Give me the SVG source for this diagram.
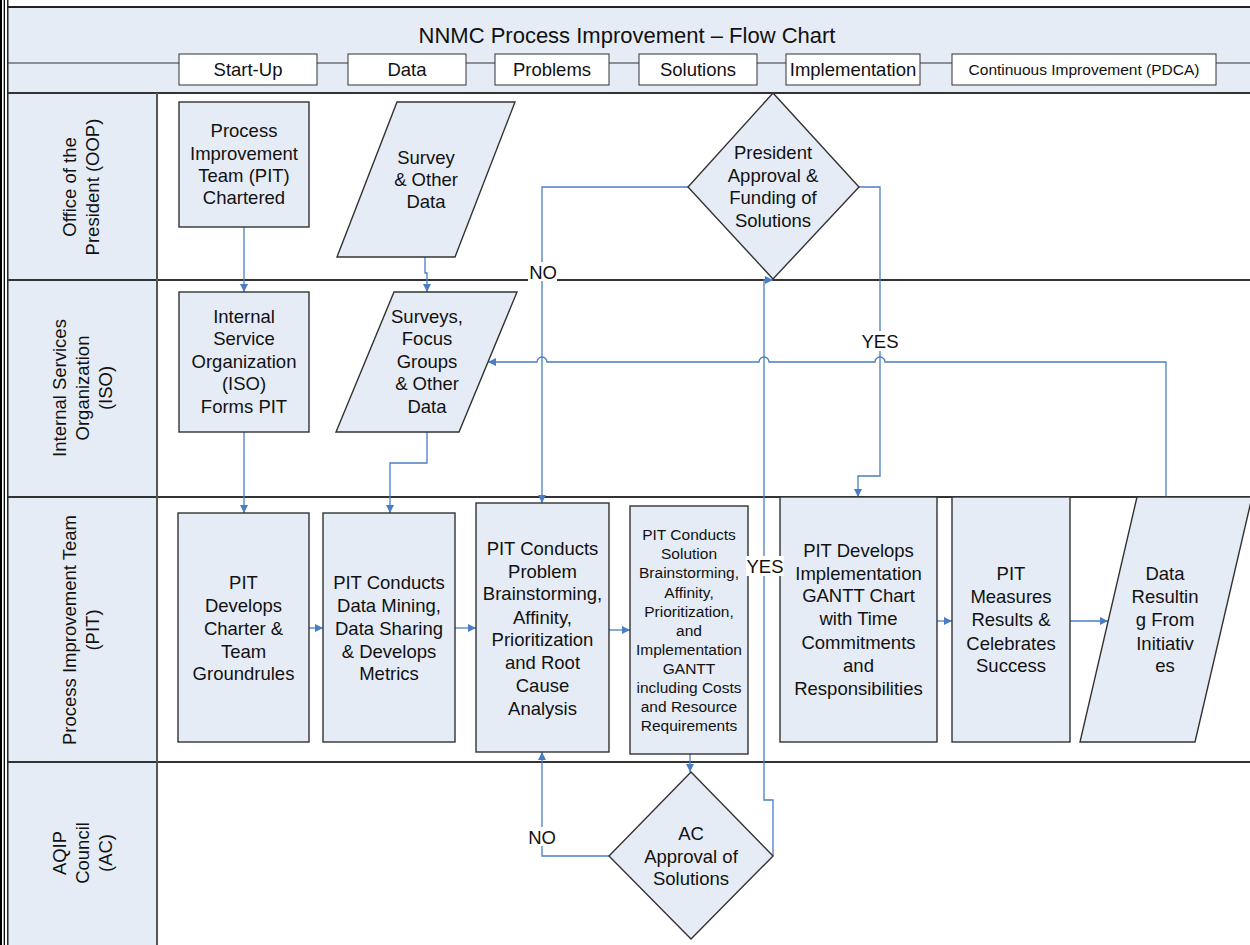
<svg xmlns="http://www.w3.org/2000/svg" width="1250" height="945" viewBox="0 0 1250 945">
<defs>
<marker id="ah" viewBox="0 0 10 10" refX="10" refY="5" markerWidth="9" markerHeight="8" markerUnits="userSpaceOnUse" orient="auto">
<path d="M0,0 L10,5 L0,10 z" fill="#4A7EC4"/>
</marker>
<style>
text{font-family:"Liberation Sans",Arial,sans-serif;fill:#111;}
.t{font-size:18.5px;text-anchor:middle;}
.s{font-size:15.5px;text-anchor:middle;}
.ph{font-size:18.5px;text-anchor:middle;}
.node{fill:#E6ECF6;stroke:#333;stroke-width:1.4;}
.pbox{fill:#fff;stroke:#333;stroke-width:1;}
.lane{stroke:#333;stroke-width:2;fill:none;}
.conn{fill:none;stroke:#4A7EC4;stroke-width:1.3;}
.arr{marker-end:url(#ah);}
.lbl{fill:#fff;stroke:none;}
</style>
</defs>
<rect x="0" y="0" width="1250" height="945" fill="#fff"/>
<g id="background">
<rect x="8" y="7" width="1242" height="86" fill="#E6ECF6"/>
<rect x="8" y="93" width="149" height="852" fill="#E6ECF6"/>
<line x1="1" y1="0" x2="1" y2="945" stroke="#000" stroke-width="2"/>
<line x1="4.3" y1="0" x2="4.3" y2="945" stroke="#000" stroke-width="1.3"/>
<line x1="7.8" y1="0" x2="7.8" y2="945" stroke="#000" stroke-width="1.3"/>
<line x1="8" y1="7" x2="1250" y2="7" stroke="#222" stroke-width="2"/>
<line x1="8" y1="63" x2="1250" y2="63" stroke="#333" stroke-width="1"/>
<line class="lane" x1="8" y1="93" x2="1250" y2="93"/>
<line class="lane" x1="8" y1="280" x2="1250" y2="280"/>
<line class="lane" x1="8" y1="497" x2="1250" y2="497"/>
<line class="lane" x1="8" y1="762" x2="1250" y2="762"/>
<line x1="157" y1="93" x2="157" y2="945" stroke="#555" stroke-width="2"/>
</g>
<g id="title">
<text x="627" y="43" style="font-size:22px;text-anchor:middle">NNMC Process Improvement – Flow Chart</text>
</g>
<g id="phases">
<rect class="pbox" x="179" y="54" width="138" height="31"/>
<text class="ph" x="248" y="76">Start-Up</text>
<rect class="pbox" x="348" y="54" width="118" height="31"/>
<text class="ph" x="407" y="76">Data</text>
<rect class="pbox" x="495" y="54" width="114" height="31"/>
<text class="ph" x="552" y="76">Problems</text>
<rect class="pbox" x="639" y="54" width="118" height="31"/>
<text class="ph" x="698" y="76">Solutions</text>
<rect class="pbox" x="786" y="54" width="134" height="31"/>
<text class="ph" x="853" y="76">Implementation</text>
<rect class="pbox" x="952" y="54" width="264" height="31"/>
<text x="1084" y="75" style="font-size:15.5px;text-anchor:middle">Continuous Improvement (PDCA)</text>
</g>
<g id="lane-labels">
<text class="t" transform="translate(70,187) rotate(-90)" dy="0.35em">Office of the</text>
<text class="t" transform="translate(93,187) rotate(-90)" dy="0.35em">President (OOP)</text>
<text class="t" transform="translate(60,388) rotate(-90)" dy="0.35em">Internal Services</text>
<text class="t" transform="translate(83,388) rotate(-90)" dy="0.35em">Organization</text>
<text class="t" transform="translate(106,388) rotate(-90)" dy="0.35em">(ISO)</text>
<text class="t" transform="translate(70,630) rotate(-90)" dy="0.35em">Process Improvement Team</text>
<text class="t" transform="translate(93,630) rotate(-90)" dy="0.35em">(PIT)</text>
<text class="t" transform="translate(60,853) rotate(-90)" dy="0.35em">AQIP</text>
<text class="t" transform="translate(83,853) rotate(-90)" dy="0.35em">Council</text>
<text class="t" transform="translate(106,853) rotate(-90)" dy="0.35em">(AC)</text>
</g>
<g id="connectors">
<path class="conn arr" d="M244,227 V292"/>
<path class="conn arr" d="M425,257 V273 H427 V292"/>
<path class="conn arr" d="M244,432 V513"/>
<path class="conn arr" d="M427,432 V463 H390 V513"/>
<path class="conn arr" d="M309,628 H323"/>
<path class="conn arr" d="M455,628 H476"/>
<path class="conn arr" d="M609,630 H630"/>
<path class="conn arr" d="M937,621 H952"/>
<path class="conn arr" d="M1070,621 H1108"/>
<path class="conn arr" d="M1166,497 V362 H885 A5,5 0 0 0 875,362 H769 A5,5 0 0 0 759,362 H547 A5,5 0 0 0 537,362 H488"/>
<path class="conn arr" d="M688,187 H542 V503"/>
<path class="conn arr" d="M859,187 H880 V476 H858 V497"/>
<path class="conn arr" d="M690,754 V772"/>
<path class="conn arr" d="M609,856 H542 V752"/>
<path class="conn arr" d="M773,856 V800 H764 V280 H773"/>
</g>
<g id="node-pit-chartered">
<rect class="node" x="179" y="102" width="130" height="125"/>
<text class="t" x="244" y="136.5">Process</text>
<text class="t" x="244" y="159.5">Improvement</text>
<text class="t" x="244" y="181.5">Team (PIT)</text>
<text class="t" x="244" y="203.5">Chartered</text>
</g>
<g id="node-survey-data">
<polygon class="node" points="397,102 515,102 455,257 337,257"/>
<text class="t" x="426" y="163.5">Survey</text>
<text class="t" x="426" y="185.5">&amp; Other</text>
<text class="t" x="426" y="207.5">Data</text>
</g>
<g id="node-president-approval">
<polygon class="node" points="773,93 859,187 773,279 688,187"/>
<text class="t" x="773" y="158.5">President</text>
<text class="t" x="773" y="181.5">Approval &amp;</text>
<text class="t" x="773" y="203.5">Funding of</text>
<text class="t" x="773" y="226.5">Solutions</text>
</g>
<g id="node-iso-forms-pit">
<rect class="node" x="179" y="292" width="130" height="140"/>
<text class="t" x="244" y="322.5">Internal</text>
<text class="t" x="244" y="345">Service</text>
<text class="t" x="244" y="367.5">Organization</text>
<text class="t" x="244" y="390">(ISO)</text>
<text class="t" x="244" y="412.5">Forms PIT</text>
</g>
<g id="node-surveys-focus">
<polygon class="node" points="394,292 517,292 459,432 336,432"/>
<text class="t" x="427" y="322.5">Surveys,</text>
<text class="t" x="427" y="345">Focus</text>
<text class="t" x="427" y="367.5">Groups</text>
<text class="t" x="427" y="390">&amp; Other</text>
<text class="t" x="427" y="412.5">Data</text>
</g>
<g id="node-charter">
<rect class="node" x="178" y="513" width="131" height="229"/>
<text class="t" x="243.5" y="588.5">PIT</text>
<text class="t" x="243.5" y="611.5">Develops</text>
<text class="t" x="243.5" y="634.5">Charter &amp;</text>
<text class="t" x="243.5" y="657.5">Team</text>
<text class="t" x="243.5" y="679.5">Groundrules</text>
</g>
<g id="node-data-mining">
<rect class="node" x="323" y="513" width="132" height="229"/>
<text class="t" x="389" y="588.5">PIT Conducts</text>
<text class="t" x="389" y="611.5">Data Mining,</text>
<text class="t" x="389" y="634.5">Data Sharing</text>
<text class="t" x="389" y="657.5">&amp; Develops</text>
<text class="t" x="389" y="679.5">Metrics</text>
</g>
<g id="node-problem-brainstorming">
<rect class="node" x="476" y="503" width="133" height="249"/>
<text class="t" x="542.5" y="554.5">PIT Conducts</text>
<text class="t" x="542.5" y="577.5">Problem</text>
<text class="t" x="542.5" y="599.5">Brainstorming,</text>
<text class="t" x="542.5" y="623.5">Affinity,</text>
<text class="t" x="542.5" y="645.5">Prioritization</text>
<text class="t" x="542.5" y="668.5">and Root</text>
<text class="t" x="542.5" y="691.5">Cause</text>
<text class="t" x="542.5" y="714.5">Analysis</text>
</g>
<g id="node-solution-brainstorming">
<rect class="node" x="630" y="506" width="118" height="248"/>
<text class="s" x="689" y="539.5">PIT Conducts</text>
<text class="s" x="689" y="558.5">Solution</text>
<text class="s" x="689" y="577.5">Brainstorming,</text>
<text class="s" x="689" y="597.5">Affinity,</text>
<text class="s" x="689" y="616.5">Prioritization,</text>
<text class="s" x="689" y="635.5">and</text>
<text class="s" x="689" y="654.5">Implementation</text>
<text class="s" x="689" y="673.5">GANTT</text>
<text class="s" x="689" y="692.5">including Costs</text>
<text class="s" x="689" y="711.5">and Resource</text>
<text class="s" x="689" y="730.5">Requirements</text>
</g>
<g id="node-gantt">
<rect class="node" x="780" y="497" width="157" height="245"/>
<text class="t" x="858.5" y="556.5">PIT Develops</text>
<text class="t" x="858.5" y="579.5">Implementation</text>
<text class="t" x="858.5" y="601.5">GANTT Chart</text>
<text class="t" x="858.5" y="624.5">with Time</text>
<text class="t" x="858.5" y="648.5">Commitments</text>
<text class="t" x="858.5" y="671.5">and</text>
<text class="t" x="858.5" y="694.5">Responsibilities</text>
</g>
<g id="node-measures">
<rect class="node" x="952" y="497" width="118" height="245"/>
<text class="t" x="1011" y="579.5">PIT</text>
<text class="t" x="1011" y="602.5">Measures</text>
<text class="t" x="1011" y="625.5">Results &amp;</text>
<text class="t" x="1011" y="649.5">Celebrates</text>
<text class="t" x="1011" y="671.5">Success</text>
</g>
<g id="node-data-resulting">
<polygon class="node" points="1137,497 1252,497 1195,742 1080,742"/>
<text class="t" x="1165" y="579.5">Data</text>
<text class="t" x="1165" y="602.5">Resultin</text>
<text class="t" x="1165" y="625.5">g From</text>
<text class="t" x="1165" y="649.5">Initiativ</text>
<text class="t" x="1165" y="671.5">es</text>
</g>
<g id="node-ac-approval">
<polygon class="node" points="691,772 773,856 691,939 609,856"/>
<text class="t" x="691" y="839.5">AC</text>
<text class="t" x="691" y="862.5">Approval of</text>
<text class="t" x="691" y="884.5">Solutions</text>
</g>
<g id="connector-labels">
<rect class="lbl" x="528" y="262" width="29" height="19"/>
<text class="t" x="543" y="278.5">NO</text>
<rect class="lbl" x="861" y="331" width="38" height="20"/>
<text class="t" x="880" y="347.5">YES</text>
<rect class="lbl" x="746" y="556" width="38" height="20"/>
<text class="t" x="765" y="572.5">YES</text>
<rect class="lbl" x="528" y="827" width="29" height="19"/>
<text class="t" x="542" y="843.5">NO</text>
</g>
</svg>
